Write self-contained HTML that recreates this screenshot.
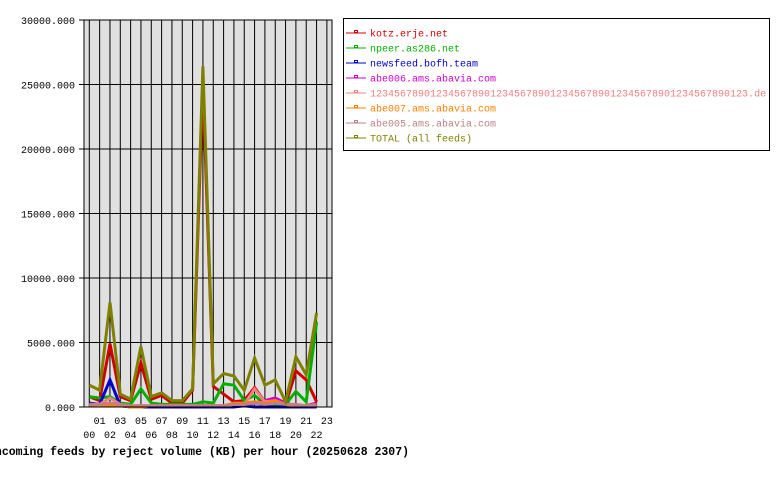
<!DOCTYPE html>
<html><head><meta charset="utf-8"><style>
html,body{margin:0;padding:0;background:#fff;}
svg{display:block;font-family:"Liberation Mono",monospace;}
</style></head><body>
<svg id="chart" width="780" height="480" viewBox="0 0 780 480">
<rect x="84" y="20" width="248" height="387" fill="#e0e0e0"/>
<g id="grid"></g>
<g id="series"></g>
<rect x="84" y="20" width="248" height="387" fill="none" stroke="#000" stroke-width="1"/>
<g id="yaxis"></g>
<g id="xaxis"></g>
<text x="409" y="455" text-anchor="end" font-size="11.5" font-weight="bold" fill="#000">Incoming feeds by reject volume (KB) per hour (20250628 2307)</text>
<g id="legend">
<rect x="343.5" y="18.5" width="426" height="132" fill="#fff" stroke="#000" stroke-width="1"/>
</g>
</svg>
<script>
const hours = ["00","01","02","03","04","05","06","07","08","09","10","11","12","13","14","15","16","17","18","19","20","21","22","23"];
const yTicks = [0,5000,10000,15000,20000,25000,30000];
const yTickLabels = ["0.000","5000.000","10000.000","15000.000","20000.000","25000.000","30000.000"];
const seriesNames = ["kotz.erje.net","npeer.as286.net","newsfeed.bofh.team","abe006.ams.abavia.com","123456789012345678901234567890123456789012345678901234567890123.de","abe007.ams.abavia.com","abe005.ams.abavia.com","TOTAL (all feeds)"];
const seriesColors = ["#d00000","#00b000","#0000d0","#d000d0","#f08080","#ff8000","#c08080","#808000"];
const kotz = [800,500,4900,800,500,3400,600,900,300,300,1300,25000,1600,1000,400,500,1500,400,300,200,2800,2100,400];
const npeer = [800,700,800,300,200,1400,300,200,200,200,200,400,300,1800,1700,500,900,200,200,200,1200,400,6600];
const newsfeed = [300,200,2100,100,0,0,0,0,0,0,0,0,0,0,0,100,0,0,0,0,0,0,0];
const abe006 = [100,100,100,100,0,0,100,100,100,100,100,100,100,100,200,200,300,500,700,300,100,100,300];
const feed123 = [200,200,700,200,100,100,100,100,100,100,100,100,100,100,200,200,1400,400,500,200,100,100,100];
const abe007 = [100,100,100,100,0,0,100,100,100,100,100,100,100,100,300,300,400,300,500,200,100,100,100];
const abe005 = [200,200,300,200,100,100,100,100,100,100,100,100,100,100,200,200,300,200,300,200,200,100,200];
const total = [1700,1300,8100,1000,600,4700,800,1100,500,500,1400,26400,1800,2600,2400,1300,3800,1700,2100,400,3900,2500,7300];
const allSeries = [kotz,npeer,newsfeed,abe006,feed123,abe007,abe005,total];

const NS="http://www.w3.org/2000/svg";
const X0=89.3, XSTEP=10.33, Y0=407, YTOP=20, YMAX=30000;
function xPos(h){return X0+h*XSTEP;}
function yPos(v){return Y0-(v/YMAX)*(Y0-YTOP);}
function mk(tag,attrs,parent){const e=document.createElementNS(NS,tag);for(const k in attrs)e.setAttribute(k,attrs[k]);parent.appendChild(e);return e;}

const grid=document.getElementById('grid');
hours.forEach((h,i)=>{
  const l=mk('line',{x1:xPos(i),x2:xPos(i),y1:YTOP,y2:Y0,stroke:'#000','stroke-width':1},grid);
  
  
});
yTicks.forEach((v,i)=>{
  const l=mk('line',{x1:84,x2:332,y1:yPos(v),y2:yPos(v),stroke:'#000','stroke-width':1},grid);
  
  
  const tk=mk('line',{x1:79,x2:84,y1:yPos(v),y2:yPos(v),stroke:'#000'},document.getElementById('yaxis'));
  
  
  const t=mk('text',{x:75,y:yPos(v)+4,'text-anchor':'end','font-size':10,fill:'#000'},document.getElementById('yaxis'));
  t.textContent=yTickLabels[i];
  
  
});
hours.forEach((h,i)=>{
  const t=mk('text',{x:xPos(i),y:(i%2?424:438),'text-anchor':'middle','font-size':10,fill:'#000'},document.getElementById('xaxis'));
  t.textContent=h;
  
  
});

const sg=document.getElementById('series');
allSeries.forEach((s,k)=>{
  const pts=s.map((v,i)=>xPos(i).toFixed(1)+','+yPos(v).toFixed(1)).join(' ');
  const p=mk('polyline',{points:pts,fill:'none',stroke:seriesColors[k],'stroke-width':3,'stroke-linejoin':'miter'},sg);
  
  
});

const lg=document.getElementById('legend');
seriesNames.forEach((n,k)=>{
  const y=33+k*15;
  const l=mk('line',{x1:346,x2:366,y1:y,y2:y,stroke:seriesColors[k],'stroke-width':1},lg);
  
  
  const r=mk('rect',{x:354.5,y:y-2.5,width:3,height:2,fill:'none',stroke:seriesColors[k],'stroke-width':1},lg);
  
  
  const t=mk('text',{x:370,y:y+3.5,'font-size':10,fill:seriesColors[k]},lg);
  t.textContent=n;
  
  
});
</script>
</body></html>
